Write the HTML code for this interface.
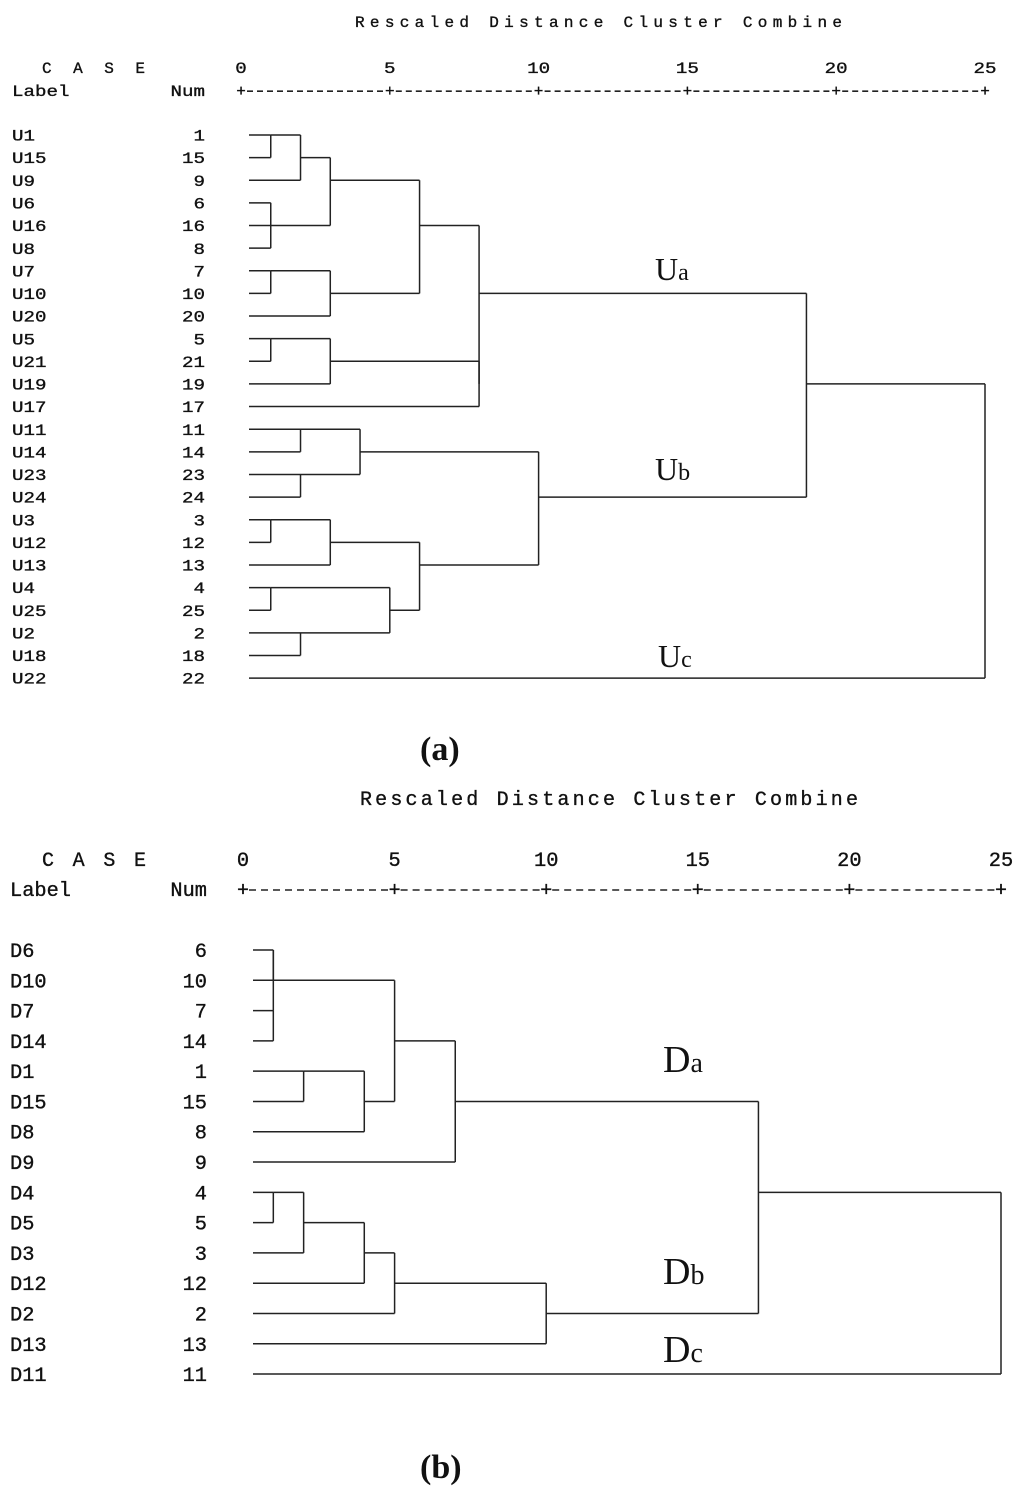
<!DOCTYPE html>
<html><head><meta charset="utf-8"><style>
html,body{margin:0;padding:0;background:#fff;}
svg{display:block;}
.m{font-family:"Liberation Mono",monospace;fill:#111;stroke:#111;stroke-width:0.35;}
.s{font-family:"Liberation Serif",serif;fill:#111;}
</style></head><body>
<svg id="svg" width="1024" height="1496" viewBox="0 0 1024 1496" xmlns="http://www.w3.org/2000/svg">
<g id="ga"></g>
<g id="gb"></g>
<text class="s" x="420" y="760" font-size="34" font-weight="bold">(a)</text>
<text class="s" x="420" y="1478" font-size="34" font-weight="bold">(b)</text>
<text class="s" x="655" y="280" font-size="32">U<tspan font-size="24">a</tspan></text>
<text class="s" x="655" y="480" font-size="32">U<tspan font-size="24">b</tspan></text>
<text class="s" x="658" y="667" font-size="32">U<tspan font-size="24">c</tspan></text>
<text class="s" x="663" y="1072" font-size="38">D<tspan font-size="28">a</tspan></text>
<text class="s" x="663" y="1284" font-size="38">D<tspan font-size="28">b</tspan></text>
<text class="s" x="663" y="1362" font-size="38">D<tspan font-size="28">c</tspan></text>
</svg>
<script>
// ---- data ----
const labelsA = ["U1","U15","U9","U6","U16","U8","U7","U10","U20","U5","U21","U19","U17","U11","U14","U23","U24","U3","U12","U13","U4","U25","U2","U18","U22"];
const numsA = [1,15,9,6,16,8,7,10,20,5,21,19,17,11,14,23,24,3,12,13,4,25,2,18,22];
// tree: [distance, left, right]; leaves are row indices
const treeA = [25,
  [19,
    [8,
      [6, [3,[2,[1,0,1],2],[1,[1,3,4],5]], [3,[1,6,7],8]],
      [8, [3,[1,9,10],11], 12]],
    [10,
      [4,[2,13,14],[2,15,16]],
      [6,[3,[1,17,18],19],[5,[1,20,21],[2,22,23]]]]],
  24];
const labelsB = ["D6","D10","D7","D14","D1","D15","D8","D9","D4","D5","D3","D12","D2","D13","D11"];
const numsB = [6,10,7,14,1,15,8,9,4,5,3,12,2,13,11];
const treeB = [25,
  [17,
    [7, [5,[1,[1,0,1],[1,2,3]],[4,[2,4,5],6]], 7],
    [10, [5,[4,[2,[1,8,9],10],11],12], 13]],
  14];
const ticks = [0,5,10,15,20,25];

function el(tag, attrs, parent){
  const e=document.createElementNS("http://www.w3.org/2000/svg",tag);
  for(const k in attrs) e.setAttribute(k,attrs[k]);
  parent.appendChild(e); return e;
}

function draw(g, cfg, labels, nums, tree){
  const X = d => cfg.x0 + d*(cfg.x25-cfg.x0)/25;
  const Y = r => cfg.y0 + r*cfg.dy;
  const cw = cfg.cw;
  let t=el("text",{class:"m",x:cfg.titleX,y:cfg.titleY,"font-size":cfg.fs,textLength:cfg.titleW,lengthAdjust:"spacing"},g);
  t.textContent="Rescaled Distance Cluster Combine";
  
  
  t=el("text",{class:"m",x:cfg.caseX,y:cfg.hY1,"font-size":cfg.fs,textLength:cfg.caseW,lengthAdjust:"spacing"},g);
  t.textContent="C A S E";
  
  
  t=el("text",{class:"m",x:cfg.labX,y:cfg.hY2,"font-size":cfg.fs,textLength:5*cw,lengthAdjust:"spacingAndGlyphs"},g);
  t.textContent="Label";
  
  
  t=el("text",{class:"m",x:cfg.numX-3*cw,y:cfg.hY2,"font-size":cfg.fs,textLength:3*cw,lengthAdjust:"spacingAndGlyphs"},g);
  t.textContent="Num";
  
  
  ticks.forEach(v=>{
    const s=String(v);
    const tt=el("text",{class:"m",x:X(v)-s.length*cw/2,y:cfg.hY1,"font-size":cfg.fs,textLength:s.length*cw,lengthAdjust:"spacingAndGlyphs"},g);
    tt.textContent=s;
    
    
    const p=el("text",{class:"m",x:X(v),y:cfg.hY2,"font-size":cfg.fs,"text-anchor":"middle"},g);
    p.textContent="+";
    
    
  });
  for(let i=0;i<5;i++){
    const a=X(ticks[i])+6,b=X(ticks[i+1])-6;
    const dl=el("line",{x1:a,x2:b,y1:cfg.hY2-cfg.fs*0.3,y2:cfg.hY2-cfg.fs*0.3,stroke:"#222","stroke-width":1.6,"stroke-dasharray":cfg.dash},g);
    
    
  }
  labels.forEach((lb,i)=>{
    const a=el("text",{class:"m",x:cfg.labX,y:Y(i)+cfg.fs*0.35,"font-size":cfg.fs,textLength:lb.length*cw,lengthAdjust:"spacingAndGlyphs"},g);
    a.textContent=lb;
    
    
    const s=String(nums[i]);
    const n=el("text",{class:"m",x:cfg.numX-s.length*cw,y:Y(i)+cfg.fs*0.35,"font-size":cfg.fs,textLength:s.length*cw,lengthAdjust:"spacingAndGlyphs"},g);
    n.textContent=s;
    
    
  });
  function walk(node){
    if(typeof node==="number") return {row:node,x:cfg.leafX};
    const L=walk(node[1]), R=walk(node[2]);
    const px=X(node[0]);
    [L,R].forEach(c=>{
      const h=el("line",{x1:c.x,x2:px,y1:Y(c.row),y2:Y(c.row),stroke:"#222","stroke-width":1.5},g);
      
      
    });
    const v=el("line",{x1:px,x2:px,y1:Y(L.row),y2:Y(R.row),stroke:"#222","stroke-width":1.5},g);
    
    
    return {row:Math.floor((L.row+R.row)/2),x:px};
  }
  walk(tree);
}

draw(document.getElementById("ga"),{x0:241,x25:985,y0:135,dy:22.63,leafX:249,fs:16,cw:11.5,
  titleX:355,titleY:27,titleW:487,caseX:42,caseW:103,hY1:73,hY2:96,labX:12,numX:205,dash:"6 4"},
  labelsA,numsA,treeA);
draw(document.getElementById("gb"),{x0:243,x25:1001,y0:950,dy:30.29,leafX:253,fs:20,cw:12.2,
  titleX:360,titleY:805,titleW:498,caseX:42,caseW:104,hY1:866,hY2:896,labX:10,numX:207,dash:"7 5"},
  labelsB,numsB,treeB);
</script>
</body></html>
